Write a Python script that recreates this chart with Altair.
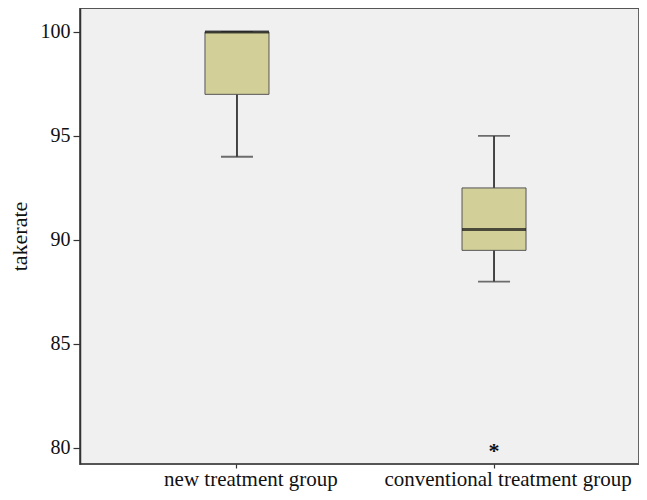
import altair as alt
import pandas as pd

groups = ["new treatment group", "conventional treatment group"]
q1 = [97.0, 89.5]
q3 = [100.0, 92.5]
medians = [100.0, 90.5]
lower = [94.0, 88.0]
upper = [100.0, 95.0]
outlier_group = ["conventional treatment group"]
outlier_value = [80.0]

stats = pd.DataFrame({"group": groups, "q1": q1, "q3": q3, "median": medians,
                      "lower": lower, "upper": upper})
outs = pd.DataFrame({"group": outlier_group, "value": outlier_value})

FONT = "Liberation Serif"
x_enc = alt.X("group:N", sort=groups, title=None,
              scale=alt.Scale(domain=groups, range=[12, 559],
                              paddingInner=0.2, paddingOuter=0.164),
              axis=alt.Axis(labelAngle=0, labelOffset=14, tickSize=4, labelPadding=0,
                            labelFont=FONT, labelFontSize=21, labelColor="#111",
                            domain=False, tickColor="#333",
                            tickWidth=1.2, labelLimit=400))
yscale = alt.Scale(domain=[79.23, 101.15], nice=False, zero=False)
y_axis = alt.Axis(values=[80, 85, 90, 95, 100], title="takerate", grid=False,
                  tickSize=7, labelPadding=3, labelFont=FONT, labelFontSize=20,
                  labelColor="#111", titleFont=FONT, titleFontSize=22,
                  titleFontWeight="normal", titleColor="#111", titlePadding=9,
                  domainColor="#333", domainWidth=1.5, tickColor="#333", tickWidth=1.2)

base = alt.Chart(stats)
whisker = base.mark_rule(color="#333", strokeWidth=1.8).encode(
    x=x_enc, y=alt.Y("lower:Q", scale=yscale, axis=y_axis), y2="upper:Q")
caps_lo = base.mark_tick(color="#333", size=32, thickness=1.8).encode(
    x=x_enc, y=alt.Y("lower:Q", scale=yscale))
caps_hi = base.mark_tick(color="#333", size=32, thickness=1.8).encode(
    x=x_enc, y=alt.Y("upper:Q", scale=yscale))
box = base.mark_bar(size=64, color="#d3cf99", stroke="#555", strokeWidth=1).encode(
    x=x_enc, y=alt.Y("q1:Q", scale=yscale), y2="q3:Q")
med = base.mark_tick(color="#111", size=64, thickness=3).encode(
    x=x_enc, y=alt.Y("median:Q", scale=yscale))
star = alt.Chart(outs).mark_text(text="*", font=FONT, fontSize=22, fontWeight="bold",
                                 baseline="middle", dy=3, color="#111").encode(
    x=x_enc, y=alt.Y("value:Q", scale=yscale))

chart = alt.layer(whisker, caps_lo, caps_hi, box, med, star).properties(
    width=559, height=456,
    autosize=alt.AutoSizeParams(type="none"),
    padding={"left": 72, "top": 0, "right": 0, "bottom": 28},
    background="white",
).configure_view(fill="#f0f0f0", stroke="#555", strokeWidth=1.8)

chart.save("out.html", embed_options={"renderer": "svg", "actions": False})
